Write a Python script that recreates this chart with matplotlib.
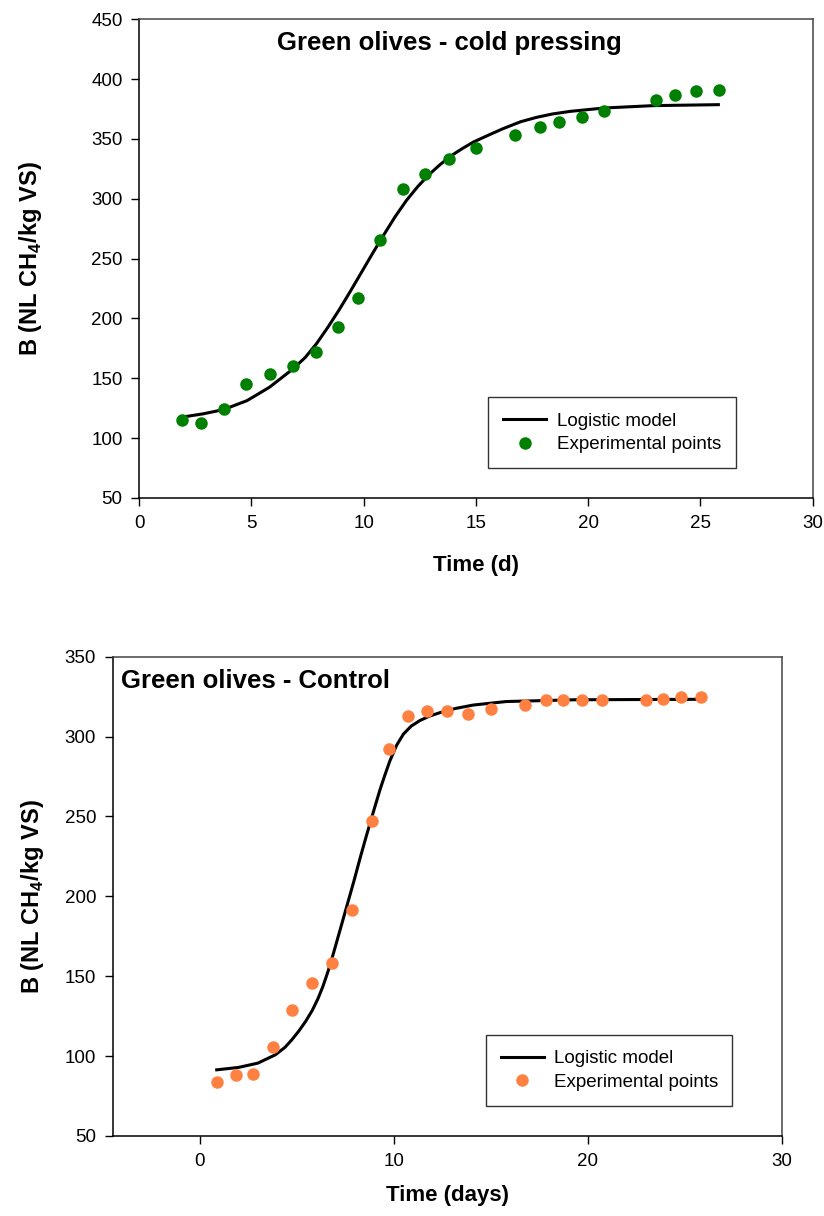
import numpy as np
import matplotlib
matplotlib.use("Agg")
import matplotlib.pyplot as plt

# ---- data -----------------------------------------------------------------
# top panel: green olives, cold pressing
cold_time = [1.9, 2.73, 3.78, 4.75, 5.82, 6.83, 7.86, 8.86, 9.75, 10.74, 11.75, 12.74,
             13.8, 15.0, 16.75, 17.85, 18.72, 19.72, 20.71, 23.01, 23.85, 24.79, 25.83]
cold_points = [115, 113, 124.4, 145.3, 153.8, 160.3, 172.2, 192.5, 216.7, 265.5, 308.3, 320.3,
               332.8, 342.5, 353, 359.7, 364.4, 368.6, 373.3, 382.5, 387, 390, 390.8]
cold_model_time = [1.9, 2.85, 3.75, 4.8, 5.8, 6.85, 7.4, 7.9, 8.4, 8.9, 9.4, 9.9, 10.4, 10.9,
                   11.4, 11.9, 12.4, 12.9, 13.4, 13.9, 14.4, 14.9, 15.6, 16.2, 17.0, 17.7,
                   18.4, 19.2, 20.7, 22.9, 25.8]
cold_model = [117.5, 120.3, 123.8, 131.3, 142.5, 157.8, 167.5, 179.0, 192.5, 207.0, 222.5,
              238.5, 254.5, 270.0, 285.0, 298.5, 310.0, 320.0, 328.5, 336.0, 342.0, 347.5,
              353.5, 358.5, 364.4, 368.0, 370.8, 373.0, 375.8, 377.8, 378.6]

# bottom panel: green olives, control
ctrl_time = [0.88, 1.89, 2.73, 3.76, 4.76, 5.81, 6.84, 7.87, 8.88, 9.76, 10.75, 11.73,
             12.76, 13.81, 15.03, 16.75, 17.85, 18.73, 19.71, 20.72, 23.02, 23.88, 24.83, 25.86]
ctrl_points = [83.5, 88.1, 88.7, 105.4, 129, 145.7, 158.3, 191.5, 247.4, 292.5, 312.6, 316,
               316, 314.3, 317.4, 320, 322.6, 322.6, 322.6, 322.6, 322.8, 323.7, 324.7, 324.7]
ctrl_model_time = [0.88, 2.0, 3.0, 3.9, 4.4, 4.75, 5.1, 5.45, 5.8, 6.1, 6.35, 6.63, 6.9, 7.25,
                   7.6, 7.95, 8.26, 8.55, 8.8, 9.05, 9.3, 9.55, 9.8, 10.15, 10.5, 10.9, 11.35,
                   11.85, 12.4, 13.2, 14.1, 15.8, 19.3, 25.8]
ctrl_model = [91.4, 92.9, 95.6, 100.8, 105.5, 110.2, 115.5, 121.5, 128.5, 136.0, 143.5, 153.5,
              164.5, 179.5, 194.5, 209.5, 223.5, 236.0, 246.5, 256.8, 266.9, 276.0, 284.6,
              294.5, 301.5, 306.5, 310.0, 312.8, 315.0, 317.6, 319.7, 321.9, 323.0, 323.3]

legend_labels = ["Logistic model", "Experimental points"]

# ---- fonts -------------------------------------------------------------------
plt.rcParams["font.family"] = ["Liberation Sans", "DejaVu Sans"]
plt.rcParams["mathtext.fontset"] = "custom"
plt.rcParams["mathtext.rm"] = "Liberation Sans"
plt.rcParams["mathtext.bf"] = "Liberation Sans:bold"

fig = plt.figure(figsize=(8.24, 12.16), dpi=100)
fig.set_facecolor("white")

ax1 = fig.add_axes([0.169, 0.5905, 0.8172, 0.3937])
ax2 = fig.add_axes([0.1368, 0.0658, 0.8119, 0.3942])


def style_axes(ax, xlim, ylim, xticks, yticks, xlabel, ylab_x, xlab_y):
    ax.set_xlim(*xlim)
    ax.set_ylim(*ylim)
    ax.set_xticks(xticks)
    ax.set_yticks(yticks)
    ax.tick_params(direction="out", length=6, width=1, colors="black", pad=6, labelsize=13.5)
    for side in ["left", "bottom"]:
        ax.spines[side].set_color("black")
        ax.spines[side].set_linewidth(1.1)
    for side in ["top", "right"]:
        ax.spines[side].set_color("#444444")
        ax.spines[side].set_linewidth(1.1)
    ax.set_xlabel(xlabel, fontsize=16, fontweight="bold")
    ax.set_ylabel(r"B (NL CH$_\mathbf{4}$/kg VS)", fontsize=17, fontweight="bold")
    ax.yaxis.set_label_coords(ylab_x, 0.5)
    ax.xaxis.set_label_coords(0.5, xlab_y)


def add_legend(ax, anchor):
    leg = ax.legend(loc="lower left", bbox_to_anchor=anchor, mode="expand", borderaxespad=0,
                    fontsize=13.5, frameon=True, fancybox=False, edgecolor="black",
                    handlelength=2.3, handletextpad=0.55, borderpad=0.8, labelspacing=0.35)
    leg.get_frame().set_linewidth(1.0)
    return leg


# top panel
ax1.plot(cold_model_time, cold_model, color="black", linewidth=2.2, label=legend_labels[0], zorder=2)
ax1.plot(cold_time, cold_points, "o", color="#008000", markersize=9, markeredgewidth=0,
         label=legend_labels[1], zorder=3)
style_axes(ax1, (0, 30), (50, 450), range(0, 31, 5), range(50, 451, 50), "Time (d)",
           -0.141, -0.119)
ax1.text(0.46, 0.95, "Green olives - cold pressing", transform=ax1.transAxes,
         ha="center", va="center", fontsize=18.5, fontweight="bold")
add_legend(ax1, (0.518, 0.062, 0.368, 0.15))

# bottom panel
ax2.plot(ctrl_model_time, ctrl_model, color="black", linewidth=2.2, label=legend_labels[0], zorder=2)
ax2.plot(ctrl_time, ctrl_points, "o", color="#ff8040", markersize=9, markeredgewidth=0,
         label=legend_labels[1], zorder=3)
style_axes(ax2, (-4.48, 30), (50, 350), [0, 10, 20, 30], range(50, 351, 50), "Time (days)",
           -0.1, -0.102)
ax2.text(0.012, 0.949, "Green olives - Control", transform=ax2.transAxes,
         ha="left", va="center", fontsize=18.5, fontweight="bold")
add_legend(ax2, (0.5575, 0.0626, 0.3675, 0.15))

plt.savefig("out.png", dpi=100, facecolor="white")
plt.close()
